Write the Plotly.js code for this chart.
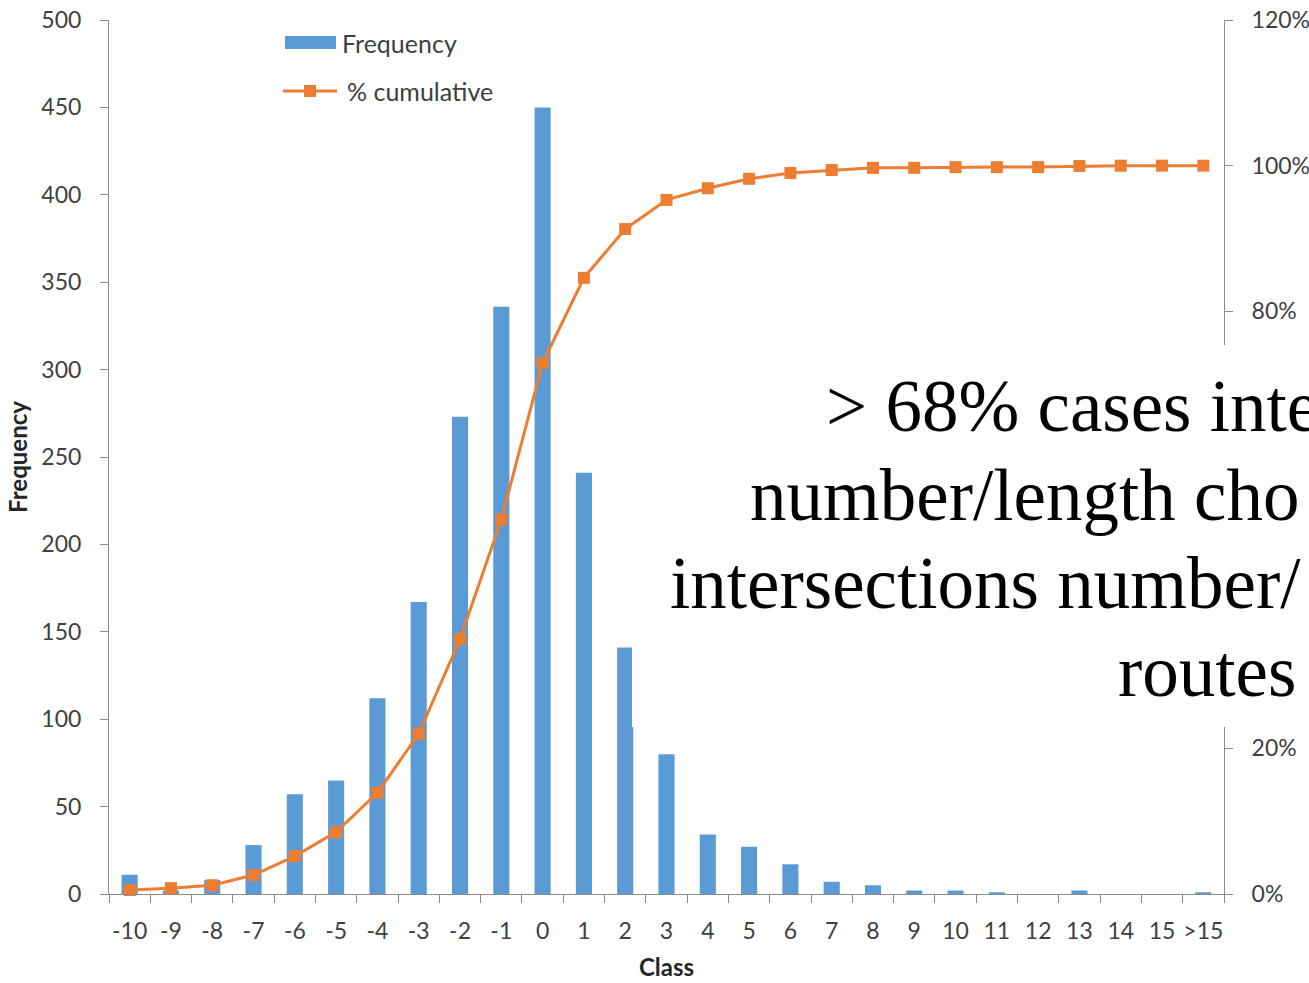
<!DOCTYPE html>
<html>
<head>
<meta charset="utf-8">
<script src="https://cdn.plot.ly/plotly-3.0.1.min.js"></script>
<style>
  html, body { margin: 0; padding: 0; background: #ffffff; overflow: hidden; }
  #chart { width: 1309px; height: 983px; }
</style>
</head>
<body>
<div id="chart"></div>
<script>
// Histogram classes
const classes = ['-10','-9','-8','-7','-6','-5','-4','-3','-2','-1','0','1','2','3','4','5','6','7','8','9','10','11','12','13','14','15','>15'];
// Frequency per class
const frequency = [11, 2, 8, 28, 57, 65, 112, 167, 273, 336, 450, 241, 141, 80, 34, 27, 17, 7, 5, 2, 2, 1, 0, 2, 0, 0, 1];
// Cumulative share (%)
const cumulative = [0.55, 0.8, 1.2, 2.6, 5.2, 8.5, 13.9, 22.0, 35.0, 51.4, 72.9, 84.6, 91.3, 95.3, 96.9, 98.2, 99.0, 99.4, 99.7, 99.7, 99.8, 99.8, 99.8, 99.95, 100, 100, 100];
// Right-axis ticks left visible beside the note panel
const pctTicks = [0, 20, 80, 100, 120];
// Note lines placed over the right part of the chart
const noteLines = ['> 68% cases inte', 'number/length cho', 'intersections number/', 'routes'];

const blue = '#5B9BD5';
const orange = '#ED7D31';
const axisGray = '#8C8C8C';
const tickColor = '#404040';
const uiFont = 'Lato, "Open Sans", sans-serif';

const W = 1309, H = 983;
const M = {l: 109, r: 85, t: 20, b: 89};
const PW = W - M.l - M.r, PH = H - M.t - M.b;
// pixel -> paper helpers for layout decorations
const px = x => (x - M.l) / PW;
const py = y => (H - M.b - y) / PH;

const traces = [
  {
    type: 'bar', name: 'Frequency', x: classes, y: frequency,
    marker: {color: blue}, showlegend: false, hoverinfo: 'skip'
  },
  {
    type: 'scatter', mode: 'lines+markers', name: '% cumulative',
    x: classes, y: cumulative, yaxis: 'y2',
    line: {color: orange, width: 3},
    marker: {symbol: 'square', size: 12, color: orange},
    showlegend: false, hoverinfo: 'skip', cliponaxis: false
  }
];

const shapes = [
  // legend: frequency swatch
  {type: 'rect', xref: 'paper', yref: 'paper', x0: px(285), x1: px(336), y0: py(49), y1: py(36),
   fillcolor: blue, line: {width: 0}, layer: 'above'},
  // legend: cumulative line + marker
  {type: 'line', xref: 'paper', yref: 'paper', x0: px(283), x1: px(337), y0: py(91), y1: py(91),
   line: {color: orange, width: 3}, layer: 'above'},
  {type: 'rect', xref: 'paper', yref: 'paper', x0: px(304), x1: px(316), y0: py(97), y1: py(85),
   fillcolor: orange, line: {width: 0}, layer: 'above'},
  // white note panel
  {type: 'rect', xref: 'paper', yref: 'paper', x0: px(632), x1: px(1330), y0: py(727), y1: py(345),
   fillcolor: '#ffffff', line: {width: 0}, layer: 'above'}
];

const noteFont = {family: '"Liberation Serif", "Times New Roman", serif', size: 73, color: '#000000'};
const noteX = [824, 748, 668, 1116];
const noteY = [406, 495, 584, 671];

const annotations = [
  {xref: 'paper', yref: 'paper', x: px(340), y: py(43), xanchor: 'left', yanchor: 'middle',
   text: 'Frequency', showarrow: false, font: {family: uiFont, size: 25, color: tickColor}},
  {xref: 'paper', yref: 'paper', x: px(345), y: py(91), xanchor: 'left', yanchor: 'middle',
   text: '% cumulative', showarrow: false, font: {family: uiFont, size: 25, color: tickColor}}
];
noteLines.forEach((t, i) => {
  annotations.push({xref: 'paper', yref: 'paper', x: px(noteX[i]), y: py(noteY[i]),
    xanchor: 'left', yanchor: 'middle', text: t, showarrow: false, font: noteFont});
});

const layout = {
  width: W, height: H, autosize: false,
  margin: {l: M.l, r: M.r, t: M.t, b: M.b, pad: 0},
  paper_bgcolor: '#ffffff', plot_bgcolor: '#ffffff',
  font: {family: uiFont, size: 23, color: tickColor},
  bargap: 0.61,
  showlegend: false,
  xaxis: {
    type: 'category', range: [-0.5, classes.length - 0.5],
    showline: true, linecolor: axisGray, linewidth: 1,
    ticks: 'outside', tickson: 'boundaries', ticklen: 8, tickcolor: axisGray,
    ticklabelstandoff: 16, tickangle: 0,
    showgrid: false, zeroline: false,
    tickfont: {family: uiFont, size: 23, color: tickColor},
    title: {text: '<b>Class</b>', standoff: 16, font: {family: uiFont, size: 24, color: '#262626'}}
  },
  yaxis: {
    range: [0, 500], dtick: 50, tick0: 0,
    showline: true, linecolor: axisGray, linewidth: 1,
    ticks: 'outside', ticklen: 8, tickcolor: axisGray,
    ticklabelstandoff: 14,
    showgrid: false, zeroline: false,
    tickfont: {family: uiFont, size: 23, color: tickColor},
    title: {text: '<b>Frequency</b>', standoff: 6, font: {family: uiFont, size: 24, color: '#262626'}}
  },
  yaxis2: {
    overlaying: 'y', side: 'right',
    range: [0, 120], tickmode: 'array', tickvals: pctTicks,
    ticktext: pctTicks.map(v => v + '%'),
    showline: true, linecolor: axisGray, linewidth: 1,
    ticks: 'outside', ticklen: 8, tickcolor: axisGray,
    ticklabelstandoff: 14,
    showgrid: false, zeroline: false,
    tickfont: {family: uiFont, size: 23, color: tickColor}
  },
  shapes: shapes,
  annotations: annotations
};

Plotly.newPlot('chart', traces, layout, {staticPlot: true, displayModeBar: false});
</script>
</body>
</html>
